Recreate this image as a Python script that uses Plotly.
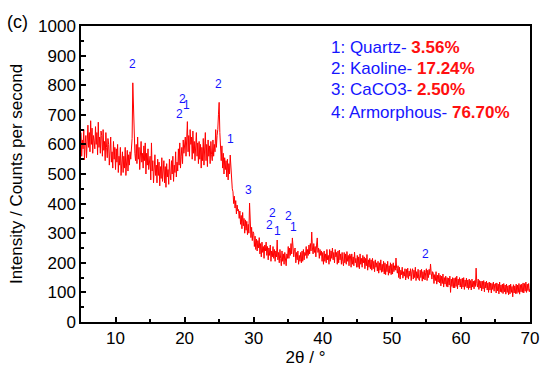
import numpy as np
import plotly.graph_objects as go

# Intensity (counts per second), 10 points per degree (step 0.1 deg)
intensity = [
    640, 560, 615, 585, 650, 548, 600, 630, 555, 610,   # 5
    665, 590, 640, 575, 680, 600, 655, 570, 630, 612,   # 6
    585, 660, 600, 640, 565, 675, 590, 625, 570, 645,   # 7
    630, 560, 650, 580, 610, 545, 640, 590, 555, 620,   # 8
    600, 530, 585, 625, 540, 575, 520, 610, 550, 590,   # 9
    515, 585, 540, 600, 505, 560, 530, 590, 495, 555,   # 10
    575, 505, 560, 520, 590, 495, 545, 580, 510, 565,   # 11
    530, 575, 550, 585, 620, 808, 700, 590, 570, 545,   # 12
    600, 535, 625, 550, 590, 515, 580, 610, 540, 570,   # 13
    520, 595, 545, 605, 500, 570, 530, 585, 515, 560,   # 14
    560, 480, 605, 510, 545, 470, 540, 565, 495, 530,   # 15
    470, 550, 495, 540, 460, 525, 485, 555, 475, 520,   # 16
    545, 470, 525, 455, 535, 490, 515, 465, 550, 500,   # 17
    480, 545, 500, 560, 475, 530, 505, 575, 490, 540,   # 18
    510, 585, 530, 605, 520, 560, 590, 535, 615, 570,   # 19
    600, 625, 560, 640, 677, 575, 630, 560, 650, 600,   # 20
    625, 550, 645, 570, 610, 545, 600, 640, 560, 605,   # 21
    535, 610, 550, 600, 520, 590, 545, 620, 530, 580,   # 22
    640, 545, 600, 525, 615, 560, 595, 535, 610, 565,   # 23
    545, 615, 560, 600, 575, 650, 590, 630, 650, 700,   # 24
    742, 640, 585, 545, 595, 520, 570, 500, 555, 515,   # 25
    545, 490, 550, 480, 535, 500, 564, 510, 470, 450,   # 26
    440, 400, 425, 385, 410, 365, 395, 375, 380, 350,   # 27
    375, 330, 360, 315, 370, 325, 350, 300, 345, 310,   # 28
    340, 295, 330, 300, 402, 310, 285, 320, 275, 305,   # 29
    300, 255, 290, 245, 280, 240, 275, 250, 285, 230,   # 30
    265, 220, 270, 235, 255, 215, 260, 240, 270, 225,   # 31
    255, 210, 250, 225, 260, 205, 240, 220, 255, 215,   # 32
    245, 205, 240, 220, 277, 210, 235, 200, 245, 215,   # 33
    190, 240, 205, 230, 195, 235, 210, 190, 230, 215,   # 34
    255, 215, 250, 225, 265, 230, 284, 240, 220, 245,   # 35
    250, 200, 235, 210, 240, 195, 225, 205, 235, 200,   # 36
    240, 205, 245, 210, 235, 225, 255, 215, 245, 225,   # 37
    260, 230, 265, 240, 304, 250, 230, 265, 235, 255,   # 38
    220, 260, 284, 235, 250, 215, 245, 225, 240, 205,   # 39
    235, 195, 240, 205, 230, 200, 245, 210, 225, 195,   # 40
    245, 205, 240, 215, 250, 210, 235, 200, 245, 220,   # 41
    235, 195, 240, 200, 243, 210, 230, 195, 235, 205,   # 42
    190, 235, 200, 230, 195, 238, 205, 225, 190, 230,   # 43
    225, 185, 230, 195, 220, 190, 236, 200, 215, 185,   # 44
    225, 185, 220, 180, 230, 195, 215, 185, 225, 200,   # 45
    220, 180, 215, 190, 228, 175, 210, 185, 215, 180,   # 46
    210, 175, 215, 180, 205, 170, 210, 185, 200, 172,   # 47
    205, 165, 200, 175, 210, 168, 195, 170, 205, 162,   # 48
    200, 160, 195, 170, 205, 158, 190, 165, 200, 160,   # 49
    195, 162, 200, 170, 190, 175, 216, 180, 165, 190,   # 50
    150, 185, 145, 175, 160, 185, 148, 170, 155, 180,   # 51
    142, 178, 150, 182, 145, 172, 155, 180, 140, 170,   # 52
    180, 145, 175, 150, 185, 140, 170, 148, 178, 143,   # 53
    140, 175, 150, 178, 138, 170, 145, 175, 142, 168,   # 54
    180, 140, 175, 150, 178, 160, 196, 165, 145, 170,   # 55
    165, 130, 160, 140, 170, 128, 158, 135, 165, 132,   # 56
    158, 122, 155, 130, 162, 118, 150, 128, 155, 120,   # 57
    150, 118, 148, 125, 155, 100, 145, 120, 150, 115,   # 58
    148, 115, 150, 120, 155, 112, 145, 125, 150, 118,   # 59
    145, 112, 148, 118, 150, 110, 142, 120, 148, 115,   # 60
    142, 110, 145, 115, 140, 108, 145, 118, 138, 112,   # 61
    140, 120, 182, 130, 118, 145, 110, 140, 115, 138,   # 62
    105, 138, 112, 140, 102, 135, 115, 138, 108, 132,   # 63
    100, 135, 108, 132, 98, 130, 110, 135, 104, 128,    # 64
    130, 98, 132, 105, 128, 95, 135, 102, 125, 100,     # 65
    128, 96, 130, 102, 125, 94, 128, 100, 122, 92,      # 66
    125, 95, 128, 100, 120, 85, 126, 98, 122, 96,       # 67
    128, 96, 125, 100, 130, 94, 126, 102, 128, 100,     # 68
    132, 98, 130, 104, 135, 100, 128, 106, 130, 102,    # 69
    112,                                                # 70
]

# 2-theta grid (degrees), step 0.1 starting at 5
two_theta = np.round(5.0 + 0.1 * np.arange(len(intensity)), 1)

# Phase labels above peaks
peak_labels = ["2", "2", "1", "2", "2", "1", "3", "2", "2", "1", "2", "1", "2"]
peak_x = [12.5, 19.65, 20.2, 19.2, 24.85, 26.67, 29.3, 32.73, 32.35, 33.46, 35.1, 35.8, 54.85]
peak_y = [872, 753, 733, 703, 804, 619, 446, 369, 328, 307, 358, 321, 230]

# Phase composition text
phase_names = ["1: Quartz- ", "2: Kaoline- ", "3: CaCO3- ", "4: Armorphous- "]
phase_pcts = ["3.56%", "17.24%", "2.50%", "76.70%"]
phase_y = [926, 855, 784, 709]

FONT = "Liberation Sans, Arial, sans-serif"

fig = go.Figure()
fig.add_trace(go.Scatter(
    x=two_theta, y=intensity, mode="lines",
    line=dict(color="#FF0000", width=1.0),
    hoverinfo="skip", showlegend=False,
))

for t, x, y in zip(peak_labels, peak_x, peak_y):
    fig.add_annotation(x=x, y=y, text=t, showarrow=False,
                       font=dict(family=FONT, size=12, color="#1515FF"),
                       xanchor="center", yanchor="middle")

for name, pct, y in zip(phase_names, phase_pcts, phase_y):
    fig.add_annotation(x=40.85, y=y, xanchor="left", yanchor="middle",
                       text=name + "<b><span style='color:#FF1010'>" + pct + "</span></b>",
                       showarrow=False,
                       font=dict(family=FONT, size=17, color="#1515FF"))

fig.add_annotation(xref="paper", yref="paper", x=-0.17, y=1.015, text="(c)",
                   showarrow=False, xanchor="left", yanchor="middle",
                   font=dict(family=FONT, size=18, color="black"))

axis_common = dict(
    showline=True, linecolor="black", linewidth=1.5, mirror=True,
    ticks="inside", ticklen=5, tickwidth=1.5, tickcolor="black",
    showgrid=False, zeroline=False, automargin=False,
    tickfont=dict(family=FONT, size=17, color="black"),
)

fig.update_xaxes(range=[5, 70], dtick=10, tick0=0,
                 minor=dict(dtick=5, ticks="inside", ticklen=3, tickwidth=1.5, tickcolor="black"),
                 title=dict(text="2θ / °", font=dict(family=FONT, size=17, color="black"), standoff=0),
                 **axis_common)
fig.update_yaxes(range=[0, 1000], dtick=100, tick0=0,
                 minor=dict(dtick=50, ticks="inside", ticklen=3, tickwidth=1.5, tickcolor="black"),
                 title=dict(text="Intensity / Counts per second", font=dict(family=FONT, size=17, color="black"), standoff=11),
                 **axis_common)

fig.update_layout(
    width=550, height=369,
    margin=dict(l=81, r=20, t=26, b=47),
    plot_bgcolor="white", paper_bgcolor="white",
    font=dict(family=FONT),
)

fig.write_html("out.html", config={"displayModeBar": False},
               post_script="document.body.style.margin='0px';")
